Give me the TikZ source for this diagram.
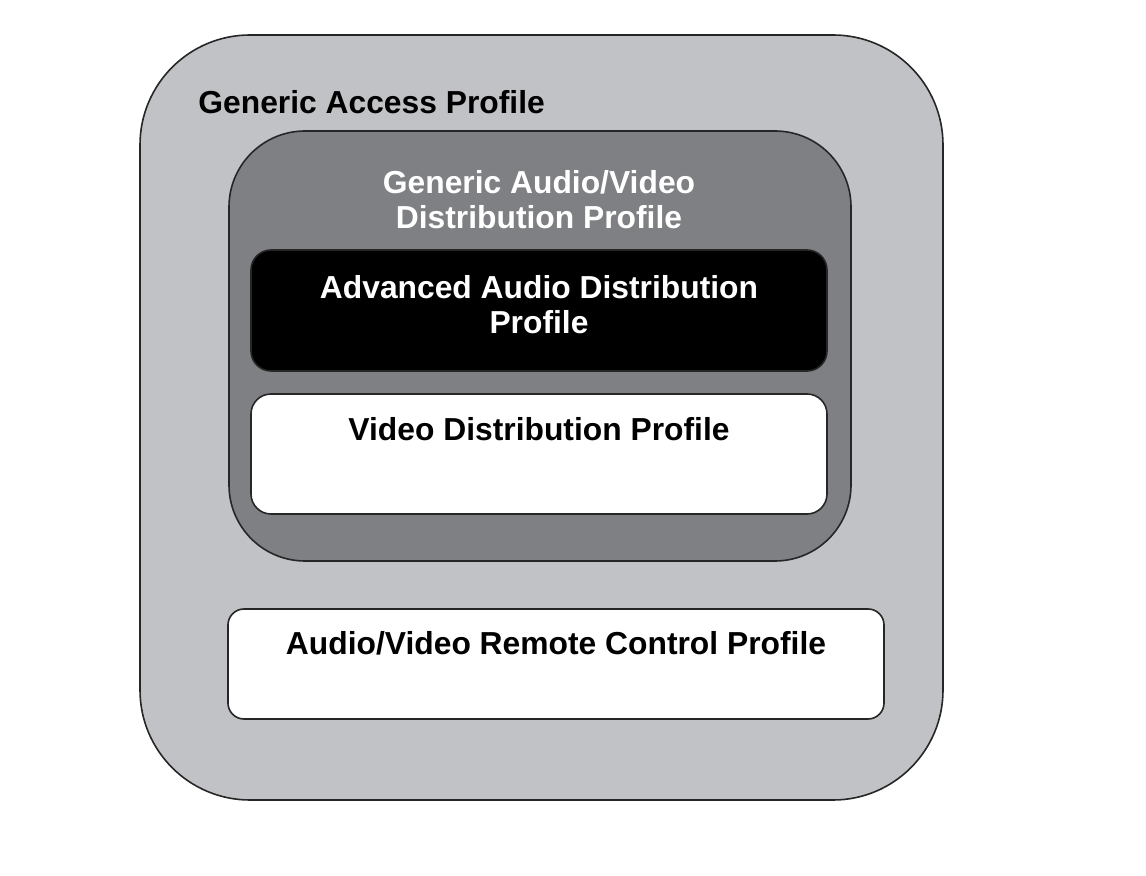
\documentclass[tikz,border=0pt]{standalone}
\usepackage{fontspec}
\setmainfont{Liberation Sans}
\definecolor{gapgray}{RGB}{193,194,197}
\definecolor{avgray}{RGB}{127,128,131}
\tikzset{
  pbox/.style={draw=black!85, line width=0.8pt},
  ptext/.style={font=\bfseries\fontsize{15.9}{17.5}\selectfont, align=center, inner sep=0pt}
}
\begin{document}
\begin{tikzpicture}[x=0.5pt,y=-0.5pt]
      \useasboundingbox (0,0) rectangle (1146,876);
      \draw[pbox, fill=gapgray, rounded corners=55pt] (140,35) rectangle (943,800);
      \draw[pbox, fill=avgray, rounded corners=38pt] (229,131) rectangle (851,561);
      \draw[pbox, fill=black, rounded corners=10pt] (251,250) rectangle (827,371);
      \draw[pbox, fill=white, rounded corners=10pt] (251,394) rectangle (827,514);
      \draw[pbox, fill=white, rounded corners=8pt] (228,609) rectangle (884,719);
      \node[ptext, anchor=west] (gap) at (198,102) {Generic Access Profile};
      \node[ptext, text=white] (gavdp) at (539,200) {Generic Audio/Video\\Distribution Profile};
      \node[ptext, text=white] (a2dp) at (539,305) {Advanced Audio Distribution\\Profile};
      \node[ptext] (vdp) at (539,429) {Video Distribution Profile};
      \node[ptext] (avrcp) at (556,643) {Audio/Video Remote Control Profile};
    \end{tikzpicture}
\end{document}
